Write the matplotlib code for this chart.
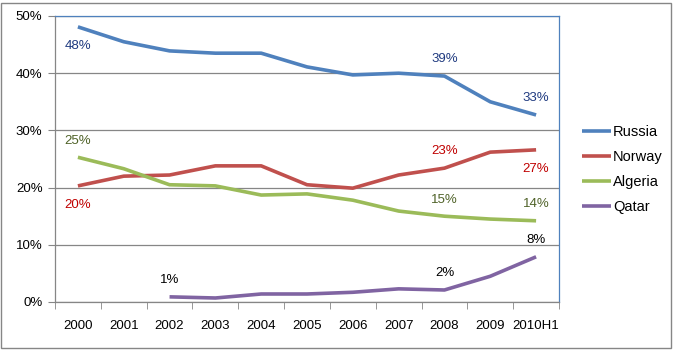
import matplotlib
matplotlib.use('Agg')
from matplotlib import pyplot as plt
from matplotlib.patches import Rectangle

# Data
years = ['2000', '2001', '2002', '2003', '2004', '2005', '2006', '2007', '2008', '2009', '2010H1']
russia = [48.1, 45.5, 43.9, 43.5, 43.5, 41.1, 39.7, 40.0, 39.5, 35.0, 32.7]
norway = [20.3, 22.0, 22.2, 23.8, 23.8, 20.5, 19.9, 22.2, 23.4, 26.2, 26.6]
algeria = [25.3, 23.3, 20.5, 20.3, 18.7, 18.9, 17.8, 15.9, 15.0, 14.5, 14.2]
qatar = [None, None, 0.9, 0.7, 1.4, 1.4, 1.7, 2.3, 2.1, 4.5, 7.9]

# labels: (index, text, above?)
russia_labels = [(0, '48%', False), (8, '39%', True), (10, '33%', True)]
norway_labels = [(0, '20%', False), (8, '23%', True), (10, '27%', False)]
algeria_labels = [(0, '25%', True), (8, '15%', True), (10, '14%', True)]
qatar_labels = [(2, '1%', True), (8, '2%', True), (10, '8%', True)]

plt.rcParams['font.family'] = ['Liberation Sans', 'DejaVu Sans']

fig = plt.figure(figsize=(6.76, 3.5), dpi=100)
W, H = 676, 350
ax = fig.add_axes([55 / W, 1 - 302 / H, (559 - 55) / W, (302 - 16) / H])

# outer border
fig.patches.append(Rectangle((1 / W, 2 / H), 670 / W, 345 / H, transform=fig.transFigure,
                             fill=False, edgecolor='#868686', linewidth=1))

x = list(range(len(years)))
series = [
    ('Russia', russia, '#4F81BD', '#1F3A80', russia_labels),
    ('Norway', norway, '#C0504D', '#C00000', norway_labels),
    ('Algeria', algeria, '#9BBB59', '#4F6228', algeria_labels),
    ('Qatar', qatar, '#8064A2', '#000000', qatar_labels),
]

for name, vals, color, lcolor, labels in series:
    xs = [i for i, v in zip(x, vals) if v is not None]
    ys = [v for v in vals if v is not None]
    ax.plot(xs, ys, color=color, linewidth=2.6, label=name, solid_capstyle='butt')
    for i, txt, above in labels:
        off = 12 if above else -14
        ax.annotate(txt, (i, vals[i]), xytext=(0, off), textcoords='offset points',
                    ha='center', va='center', color=lcolor, fontsize=9.5)

ax.set_xlim(-0.5, len(years) - 0.5)
ax.set_ylim(0, 50)
ax.set_yticks([0, 10, 20, 30, 40, 50])
ax.set_yticklabels(['0%', '10%', '20%', '30%', '40%', '50%'])
ax.set_xticks(x)
ax.set_xticklabels(years)
ax.set_xticks([i - 0.5 for i in range(len(years) + 1)], minor=True)
ax.tick_params(axis='x', which='major', length=0, pad=13, labelsize=9.5)
ax.tick_params(axis='x', which='minor', length=5, color='#868686')
ax.tick_params(axis='y', length=5, color='#868686', pad=4, labelsize=9.5)

ax.grid(axis='y', color='#868686', linewidth=0.9)
ax.set_axisbelow(True)
ax.spines['left'].set_color('#868686')
ax.spines['bottom'].set_color('#868686')
ax.spines['top'].set_color('#4F81BD')
ax.spines['right'].set_color('#4F81BD')
for s in ax.spines.values():
    s.set_linewidth(0.9)

leg = ax.legend(loc='upper left', bbox_to_anchor=(576 / W, 1 - 119 / H), bbox_transform=fig.transFigure,
                frameon=False, fontsize=10.5, handlelength=2.0, handletextpad=0.15, labelspacing=0.75,
                borderaxespad=0)

fig.savefig('out.png', dpi=100)
